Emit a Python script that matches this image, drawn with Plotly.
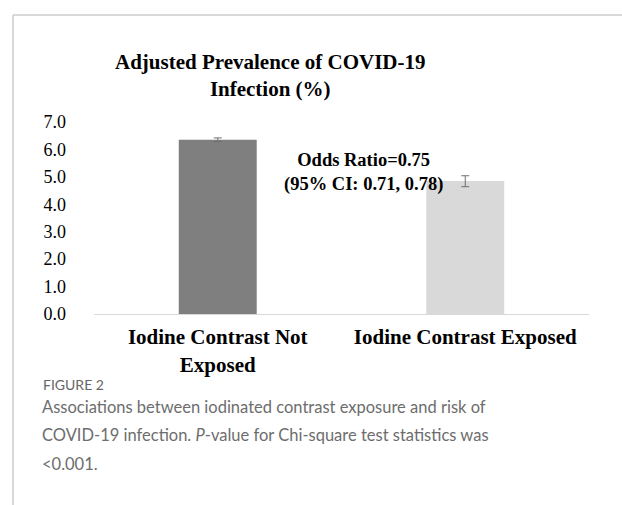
import plotly.graph_objects as go

categories = ["Iodine Contrast Not<br>Exposed", "Iodine Contrast Exposed"]
prevalence = [6.35, 4.85]
err_plus = [0.07, 0.19]
err_minus = [0.07, 0.21]
bar_colors = ["#7f7f7f", "#d9d9d9"]
y_ticks = [0, 1, 2, 3, 4, 5, 6, 7]
y_tick_text = ["0.0", "1.0", "2.0", "3.0", "4.0", "5.0", "6.0", "7.0"]

title_text = "<b>Adjusted Prevalence of COVID-19<br>Infection (%)</b>"
or_text = "<b>Odds Ratio=0.75<br>(95% CI: 0.71, 0.78)</b>"
fig_label = "FIGURE 2"
caption_lines = [
    "Associations between iodinated contrast exposure and risk of",
    "COVID-19 infection. <i>P</i>-value for Chi-square test statistics was",
    "&lt;0.001.",
]

W, H = 622, 505
serif = "Liberation Serif, Times New Roman, serif"
sans = "Lato, Open Sans, sans-serif"

fig = go.Figure()
fig.add_trace(go.Bar(
    x=categories, y=prevalence,
    marker=dict(color=bar_colors, line=dict(width=0)),
    width=0.315,
    error_y=dict(type="data", symmetric=False, array=err_plus, arrayminus=err_minus,
                 color="#6f6f6f", thickness=1, width=4),
    hoverinfo="skip",
))

def py(px):
    return 1 - px / H

def pxx(px):
    return px / W

fig.update_layout(
    width=W, height=H,
    margin=dict(l=0, r=0, t=0, b=0, pad=0, autoexpand=False),
    paper_bgcolor="white", plot_bgcolor="white",
    showlegend=False,
    xaxis=dict(domain=[pxx(94), pxx(589)], showline=True, linecolor="#d9d9d9", linewidth=1,
               showgrid=False, ticks="", tickfont=dict(family=serif, size=21, color="black"),
               ticklabelstandoff=4, tickprefix="<b>", ticksuffix="</b>", automargin=False),
    yaxis=dict(domain=[py(314), py(122)], range=[0, 7], tickvals=y_ticks, ticktext=y_tick_text,
               showgrid=False, zeroline=False, showline=False, ticks="",
               tickfont=dict(family=serif, size=18, color="black"), ticklabelstandoff=27,
               automargin=False),
)

# frame lines
fig.add_shape(type="line", xref="paper", yref="paper", x0=pxx(13), x1=1.0, y0=py(15), y1=py(15),
              line=dict(color="#cccccc", width=1.5))
fig.add_shape(type="line", xref="paper", yref="paper", x0=pxx(13), x1=pxx(13), y0=py(15), y1=0,
              line=dict(color="#cccccc", width=1.5))

fig.add_annotation(text=title_text, xref="paper", yref="paper", x=pxx(270), y=py(75),
                   xanchor="center", yanchor="middle", showarrow=False,
                   font=dict(family=serif, size=21, color="black"))
fig.add_annotation(text=or_text, xref="paper", yref="paper", x=pxx(363), y=py(172),
                   xanchor="center", yanchor="middle", showarrow=False,
                   font=dict(family=serif, size=18.5, color="black"))
fig.add_annotation(text=fig_label, xref="paper", yref="paper", x=pxx(41), y=py(384),
                   xanchor="left", yanchor="middle", showarrow=False,
                   font=dict(family=sans, size=14, color="#666666"))
for i, line in enumerate(caption_lines):
    fig.add_annotation(text=line, xref="paper", yref="paper", x=pxx(40), y=py(407 + 28.3 * i),
                       xanchor="left", yanchor="middle", showarrow=False,
                       font=dict(family=sans, size=16.5, color="#6d6d6d"))

fig.write_html("out.html", config={"displayModeBar": False},
               post_script="document.body.style.margin='0';document.body.style.overflow='hidden';")
